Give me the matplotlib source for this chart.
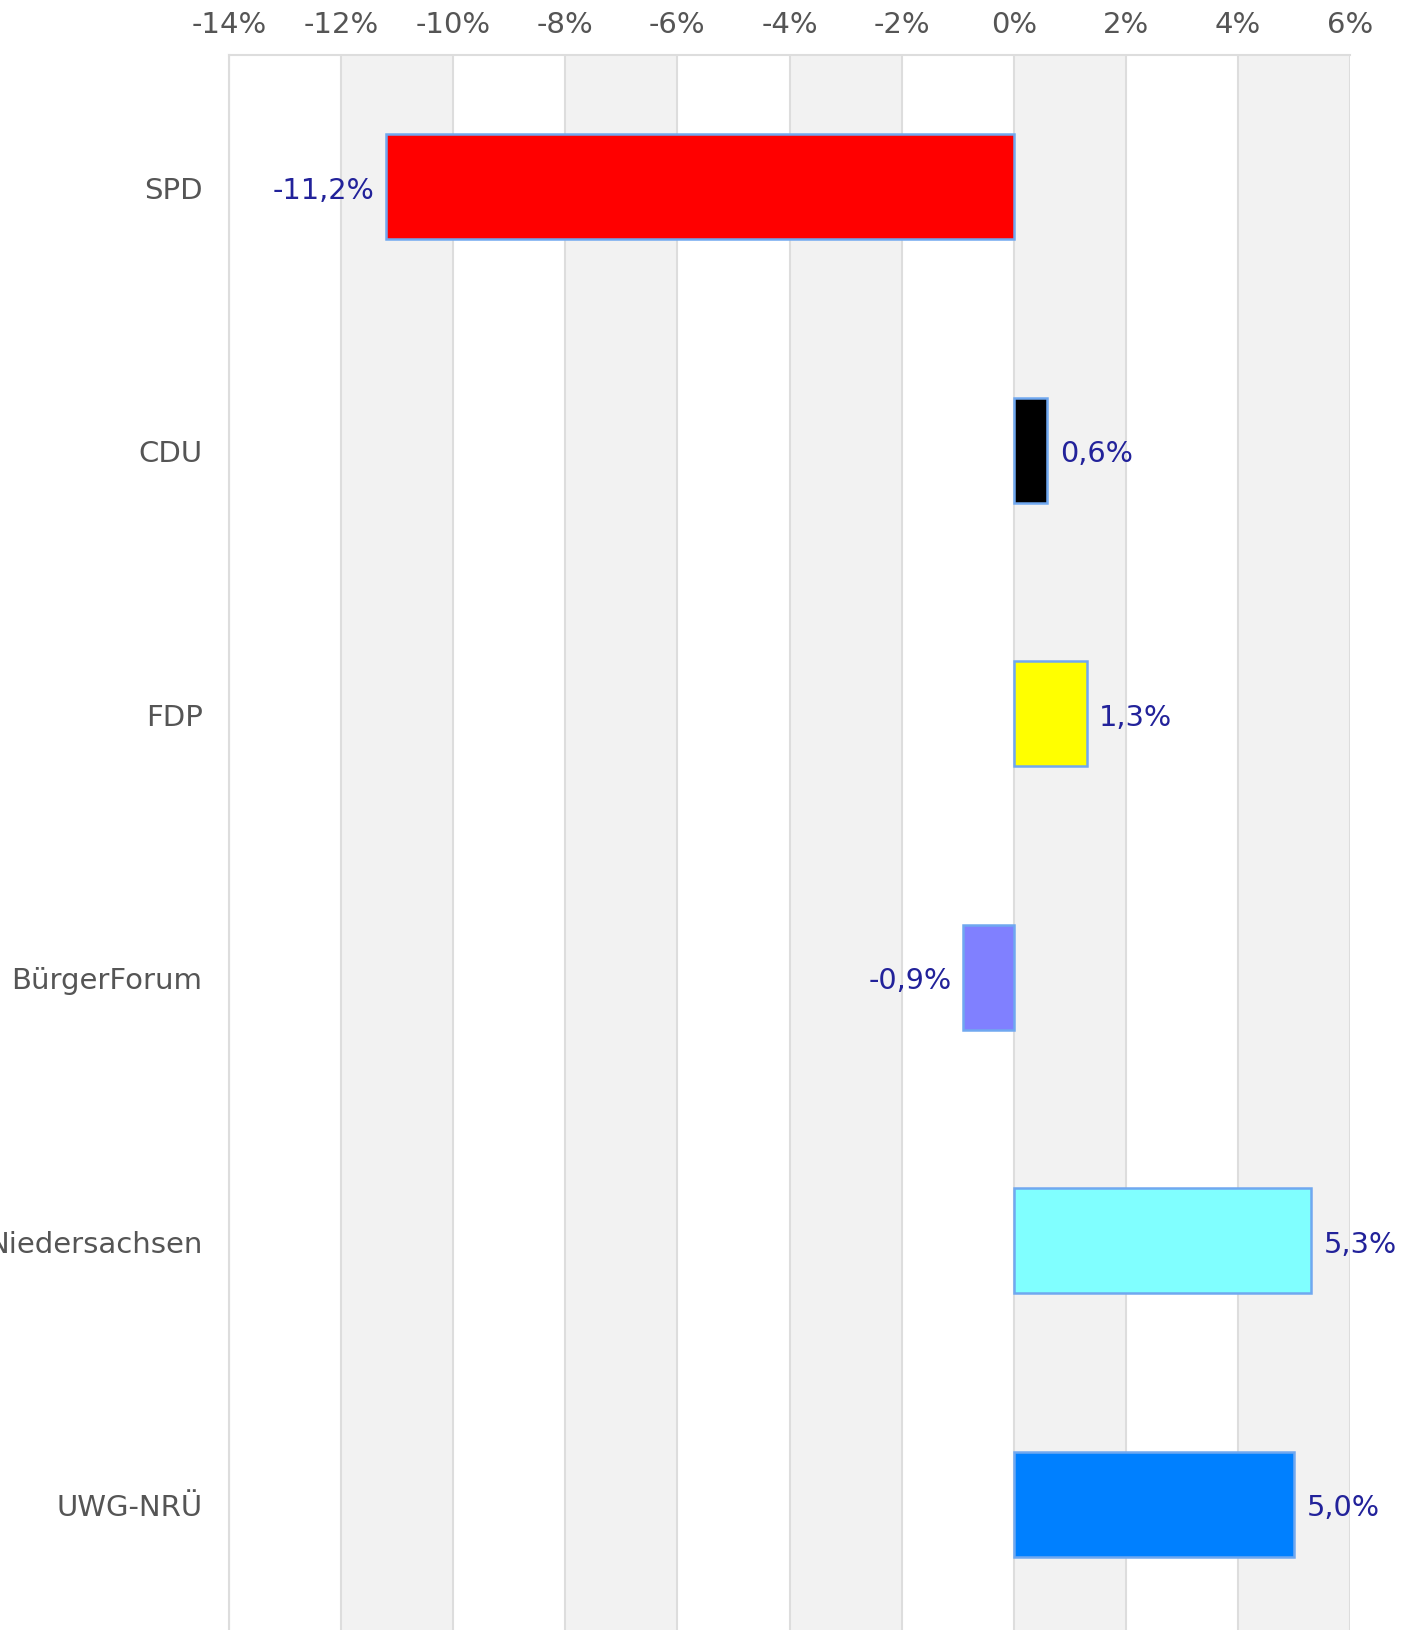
import matplotlib
matplotlib.use("Agg")
import matplotlib.pyplot as plt

parties = ["SPD", "CDU", "FDP", "BürgerForum", "Niedersachsen", "UWG-NRÜ"]
changes = [-11.2, 0.6, 1.3, -0.9, 5.3, 5.0]
colors = ["#ff0000", "#000000", "#ffff00", "#8080ff", "#80ffff", "#0080ff"]
value_labels = ["-11,2%", "0,6%", "1,3%", "-0,9%", "5,3%", "5,0%"]
ticks = [-14, -12, -10, -8, -6, -4, -2, 0, 2, 4, 6]
tick_labels = ["-14%", "-12%", "-10%", "-8%", "-6%", "-4%", "-2%", "0%", "2%", "4%", "6%"]

plt.rcParams['font.family'] = ['DejaVu Sans']

W, H = 1411, 1631
fig = plt.figure(figsize=(W / 100, H / 100), dpi=100)
left = 229 / W
right = 1350 / W
top = 1 - 56 / H
bottom = 1 - 1637 / H
ax = fig.add_axes([left, bottom, right - left, top - bottom])

ax.set_xlim(-14, 6)
ax.set_ylim(len(parties) - 0.5, -0.5)

# alternating bands
for i in range(len(ticks) - 1):
    if i % 2 == 1:
        ax.axvspan(ticks[i], ticks[i + 1], color="#f2f2f2", zorder=0, lw=0)
for t in ticks:
    ax.axvline(t, color="#dddddd", lw=1.5, zorder=1)

ypos = list(range(len(parties)))
ax.barh(ypos, changes, height=0.4, color=colors, edgecolor="#70a8f0",
        linewidth=1.8, zorder=3)

for y, v, lab in zip(ypos, changes, value_labels):
    if v >= 0:
        ax.annotate(lab, (v, y), xytext=(9, -2), textcoords="offset points",
                    ha="left", va="center", color="#22229a", fontsize=20.7)
    else:
        ax.annotate(lab, (v, y), xytext=(-8, -2), textcoords="offset points",
                    ha="right", va="center", color="#22229a", fontsize=20.7)

ax.xaxis.tick_top()
ax.set_xticks(ticks)
ax.set_xticklabels(tick_labels)
ax.set_yticks(ypos)
ax.set_yticklabels(parties)
ax.tick_params(axis="x", length=0, pad=12, labelsize=21, labelcolor="#555555")
ax.tick_params(axis="y", length=0, pad=19, labelsize=21, labelcolor="#555555")

for s in ["right", "bottom"]:
    ax.spines[s].set_visible(False)
for s in ["top", "left"]:
    ax.spines[s].set_color("#dddddd")
    ax.spines[s].set_linewidth(1.5)

fig.savefig("out.png", dpi=100, facecolor="white")
